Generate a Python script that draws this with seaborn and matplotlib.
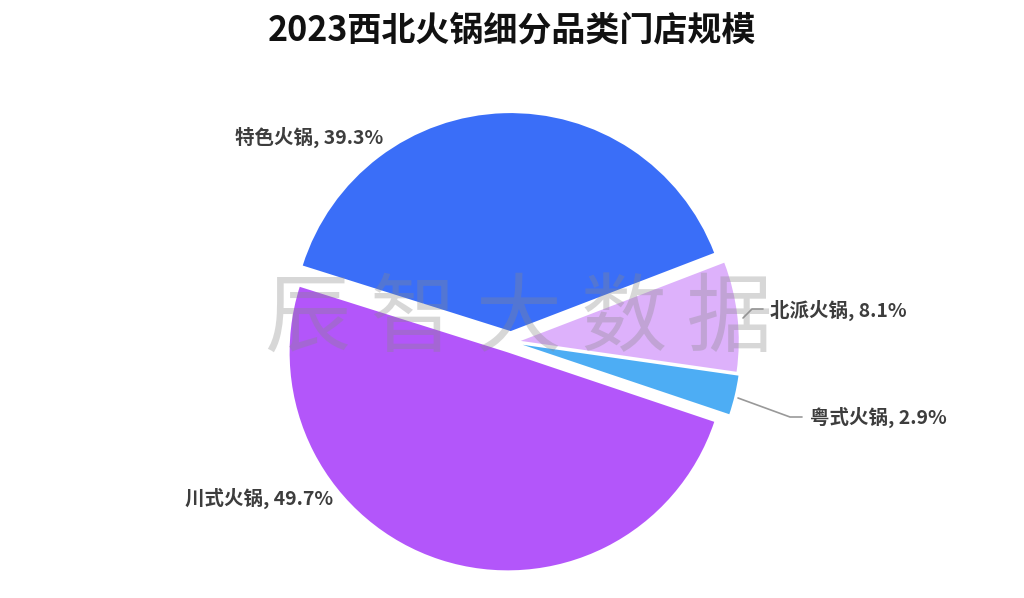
import matplotlib
matplotlib.use("Agg")
import matplotlib.pyplot as plt
import seaborn as sns

categories = ["特色火锅", "北派火锅", "粤式火锅", "川式火锅"]
shares = [39.3, 8.1, 2.9, 49.7]
colors = ["#3a6ef8", "#ddb1fb", "#4dadf4", "#b356fa"]
title = "2023西北火锅细分品类门店规模"
watermark = "辰 智 大 数 据"

sns.set_theme(style="white")
plt.rcParams["font.family"] = ["Noto Sans CJK SC", "DejaVu Sans"]

W, H = 1024, 598
R = 218.0
CX, CY = 511.0, 342.0

def px(x, y):
    return (x - CX) / R, (CY - y) / R

fig = plt.figure(figsize=(W / 100, H / 100), dpi=100)
ax = fig.add_axes([0, 0, 1, 1])

explode = [0.05, 0.045, 0.055, 0.05]
wedges, _ = ax.pie(shares, colors=colors, startangle=162.5, counterclock=False,
                   explode=explode, radius=1.0, center=(0, 0),
                   wedgeprops=dict(linewidth=0))
ax.set_xlim(-CX / R, (W - CX) / R)
ax.set_ylim(-(H - CY) / R, CY / R)
ax.set_aspect("auto")
ax.axis("off")

label_pos = [((383, 137), "right"), ((770, 310), "left"), ((810, 417), "left"), ((333, 498), "right")]
for cat, val, ((lx, ly), ha) in zip(categories, shares, label_pos):
    x, y = px(lx, ly)
    ax.text(x, y, f"{cat}, {val}%", ha=ha, va="center", fontsize=14,
            fontweight="bold", color="#3d3d3d")

# leader lines
for pts in ([(743, 318), (752, 309), (763, 309)], [(738, 398), (790, 417), (802, 417)]):
    xs, ys = zip(*[px(a, b) for a, b in pts])
    ax.plot(xs, ys, color="#999999", lw=1.2)

wx, wy = px(519, 320)
ax.text(wx, wy, watermark, ha="center", va="center", fontsize=62,
        color="#888888", alpha=0.33, zorder=10)

tx, ty = px(512, 30)
ax.text(tx, ty, title, ha="center", va="center", fontsize=24.5,
        fontweight="bold", color="#111111")

fig.savefig("out.png", dpi=100)
